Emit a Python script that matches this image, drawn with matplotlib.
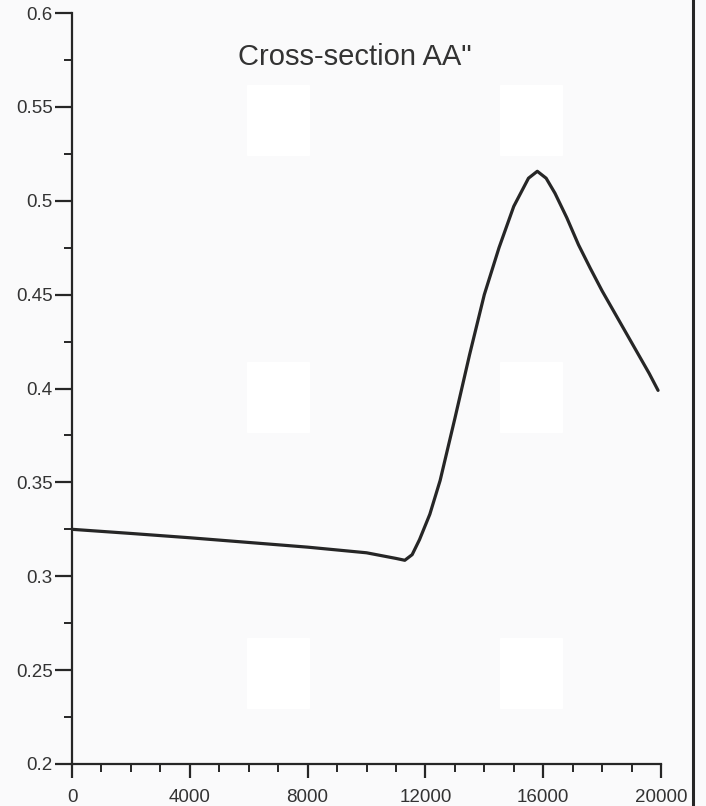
import matplotlib.pyplot as plt
from matplotlib.patches import Rectangle
from matplotlib.ticker import MultipleLocator

# Profile along the cross-section
dist = [0, 2000, 4000, 6000, 8000, 10000, 11000, 11300, 11550, 11800,
        12150, 12500, 13000, 13500, 14000, 14500, 15000, 15500, 15800, 16100,
        16400, 16800, 17200, 17600, 18000, 18400, 18800, 19200, 19600, 19900]
value = [0.325, 0.3228, 0.3205, 0.318, 0.3155, 0.3125, 0.3095, 0.3085, 0.3115, 0.3195,
         0.333, 0.351, 0.384, 0.418, 0.450, 0.475, 0.497, 0.512, 0.5157, 0.512,
         0.504, 0.491, 0.4765, 0.464, 0.452, 0.441, 0.430, 0.419, 0.408, 0.399]

xticks = [0, 4000, 8000, 12000, 16000, 20000]
yticks = [0.2, 0.25, 0.3, 0.35, 0.4, 0.45, 0.5, 0.55, 0.6]
ylabels = ['0.2', '0.25', '0.3', '0.35', '0.4', '0.45', '0.5', '0.55', '0.6']
title = 'Cross-section AA"'

ink = '#262626'
txt = '#333333'
plt.rcParams['font.family'] = ['Liberation Sans', 'DejaVu Sans']

fig = plt.figure(figsize=(7.06, 8.06), dpi=100, facecolor='#fafafb')

# faint white patches left by the scan
for fx in (247, 500):
    for fy in (85, 362, 638):
        fig.patches.append(Rectangle((fx / 706, 1 - (fy + 70) / 806), 62 / 706, 70 / 806,
                                     transform=fig.transFigure, color='white', zorder=0))

ax = fig.add_axes([72 / 706, 42 / 806, 589 / 706, 751 / 806])
ax.patch.set_alpha(0)

ax.plot(dist, value, color=ink, lw=2.3, solid_joinstyle='round', solid_capstyle='round')

ax.set_xlim(0, 20000)
ax.set_ylim(0.2, 0.6)
ax.set_xticks(xticks)
ax.set_yticks(yticks)
ax.set_yticklabels(ylabels)
ax.xaxis.set_minor_locator(MultipleLocator(1000))
ax.yaxis.set_minor_locator(MultipleLocator(0.025))

for s in ['top', 'right']:
    ax.spines[s].set_visible(False)
for s in ['left', 'bottom']:
    ax.spines[s].set_color(ink)
    ax.spines[s].set_linewidth(1.6)

ax.tick_params(which='major', direction='out', width=1.6, color=ink,
               labelcolor=txt, labelsize=13.5)
ax.tick_params(axis='x', which='major', length=10, pad=8)
ax.tick_params(axis='y', which='major', length=12.5, pad=1.5)
ax.tick_params(which='minor', direction='out', length=5.5, width=1.4, color=ink)

ax.text(0.48, 0.941, title, transform=ax.transAxes, ha='center', va='center',
        fontsize=21, color=txt)

# right border line of the scanned page
fig.add_artist(plt.Line2D([693 / 706, 693 / 706], [0, 1], transform=fig.transFigure,
                          color=ink, lw=2.2))

fig.savefig('out.png', dpi=100, facecolor=fig.get_facecolor())
